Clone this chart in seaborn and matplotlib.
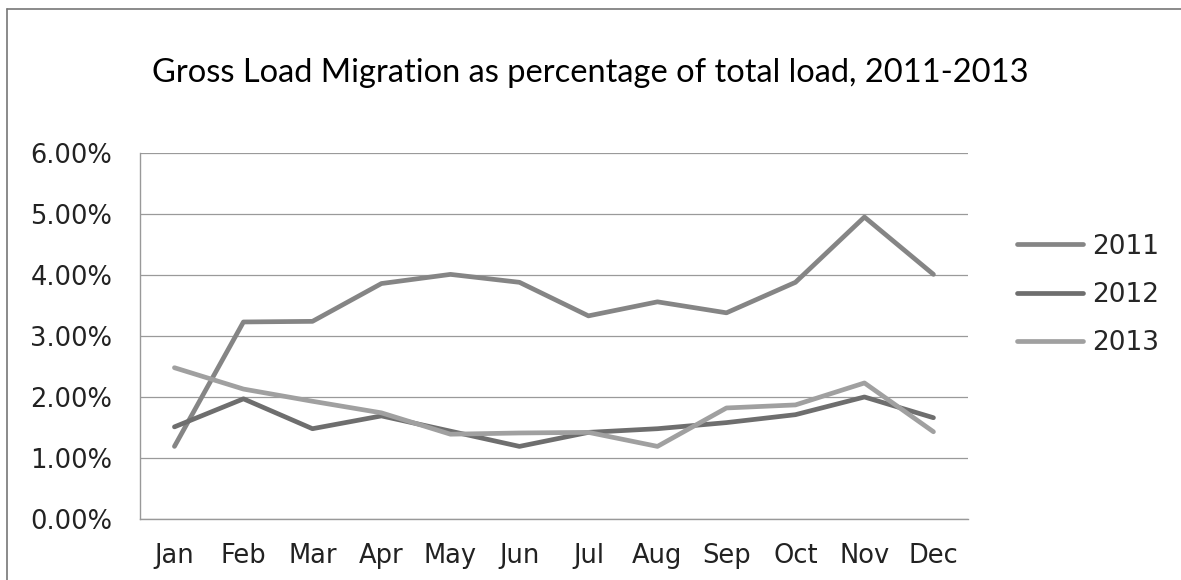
import matplotlib
matplotlib.use("Agg")
import matplotlib.pyplot as plt
import seaborn as sns
import numpy as np
import pandas as pd
from matplotlib.lines import Line2D
from matplotlib.ticker import FixedLocator, PercentFormatter

months = ['Jan', 'Feb', 'Mar', 'Apr', 'May', 'Jun',
          'Jul', 'Aug', 'Sep', 'Oct', 'Nov', 'Dec']
years = ['2011', '2012', '2013']
vals_2011 = [1.19, 3.23, 3.24, 3.86, 4.01, 3.88, 3.33, 3.56, 3.38, 3.88, 4.95, 4.01]
vals_2012 = [1.51, 1.97, 1.48, 1.69, 1.44, 1.19, 1.42, 1.48, 1.58, 1.71, 2.00, 1.66]
vals_2013 = [2.48, 2.13, 1.93, 1.74, 1.39, 1.41, 1.42, 1.19, 1.82, 1.87, 2.23, 1.43]
y_ticks = [0, 1, 2, 3, 4, 5, 6]

df = pd.DataFrame({
    'month': months * 3,
    'year': [y for y in years for _ in months],
    'value': vals_2011 + vals_2012 + vals_2013,
})

sns.set_style('white')
plt.rcParams['font.family'] = ['DejaVu Sans']

fig = plt.figure(figsize=(11.81, 5.8), dpi=100)
ax = fig.add_axes([0.1185, 0.1052, 0.8196 - 0.1185, 0.7362 - 0.1052])

palette = {'2011': '#858585', '2012': '#6e6e6e', '2013': '#a0a0a0'}
sns.lineplot(data=df, x='month', y='value', hue='year', palette=palette,
             linewidth=3.4, ax=ax, sort=False)

ax.set_xlim(-0.5, 11.5)
ax.set_ylim(0, 6)
ax.yaxis.set_major_locator(FixedLocator(y_ticks))
ax.yaxis.set_major_formatter(PercentFormatter(decimals=2))
ax.grid(axis='y', color='#9a9a9a', linewidth=0.9)
ax.set_axisbelow(True)

ax.set_xticks(range(len(months)))
ax.set_xticklabels(months)
ax.xaxis.set_minor_locator(FixedLocator(np.arange(-0.5, 12, 1)))
ax.tick_params(axis='x', which='major', length=0, pad=17, labelsize=18.5)
ax.tick_params(axis='x', which='minor', length=6, color='#888888', direction='out')
ax.tick_params(axis='y', length=7, color='#888888', labelsize=18.5, pad=13)
ax.tick_params(axis='both', labelcolor='#222222')

for side in ['top', 'right']:
    ax.spines[side].set_visible(False)
for side in ['left', 'bottom']:
    ax.spines[side].set_color('#999999')
    ax.spines[side].set_linewidth(1.0)

ax.set_xlabel('')
ax.set_ylabel('')

ax.legend(loc='upper left', bbox_to_anchor=(1.059, 0.78), frameon=False,
          borderpad=0, borderaxespad=0,
          fontsize=19, handlelength=2.5, handletextpad=0.35, labelspacing=0.85)

fig.text(0.5, 0.874, 'Gross Load Migration as percentage of total load, 2011-2013',
         ha='center', va='center', fontsize=23.5, family='Lato', color='#000000')

# outer chart border (top and left only visible)
fig.add_artist(Line2D([0.006, 1.0], [0.984, 0.984], color='#777777', linewidth=1.2,
                      transform=fig.transFigure))
fig.add_artist(Line2D([0.006, 0.006], [0.0, 0.984], color='#777777', linewidth=1.2,
                      transform=fig.transFigure))

fig.savefig('out.png', dpi=100)
